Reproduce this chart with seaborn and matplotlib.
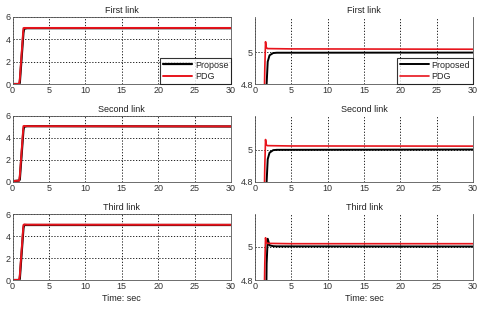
import matplotlib
matplotlib.use("Agg")
import matplotlib.pyplot as plt
import seaborn as sns
import pandas as pd

sns.set_theme(style="white")
plt.rcParams['font.family'] = ['Liberation Sans', 'DejaVu Sans']

titles = ["First link", "Second link", "Third link"]
legend_left = ["Propose", "PDG"]
legend_right = ["Proposed", "PDG"]

# Left panels (full response)
t_left = [0, 0.9, 1.0, 1.5, 1.6, 2.0, 30]
prop_left = [[0, 0, 0.1, 4.6, 4.95, 5.0, 5.0],
             [0.05, 0.1, 0.2, 4.7, 5.0, 5.05, 5.02],
             [0, 0, 0.1, 4.7, 5.0, 5.0, 5.0]]
pdg_left = [[0, 0, 0.4, 5.0, 5.02, 5.02, 5.02],
            [0.05, 0.1, 0.5, 5.05, 5.07, 5.05, 5.03],
            [0, 0, 0.4, 5.0, 5.05, 5.03, 5.02]]

# Right panels (zoom near 5)
t_pdg_right = [1.2, 1.35, 1.45, 1.55, 1.7, 5.0, 30]
pdg_right = [[4.5, 4.9, 5.065, 5.03, 5.022, 5.02, 5.018],
             [4.5, 4.9, 5.062, 5.03, 5.024, 5.022, 5.021],
             [4.5, 4.9, 5.056, 5.03, 5.022, 5.02, 5.02]]
t_prop_right = [1.5, 1.6, 1.75, 2.0, 2.5, 3.0, 30]
prop_right = [[4.5, 4.8, 4.94, 4.98, 4.994, 4.996, 4.997],
              [4.5, 4.8, 4.94, 4.98, 4.996, 4.998, 5.0],
              [4.5, 4.9, 5.05, 5.01, 5.005, 5.004, 5.003]]

xticks = [0, 5, 10, 15, 20, 25, 30]
yticks_left = [0, 2, 4, 6]
yticks_right = [4.8, 5]

fig = plt.figure(figsize=(4.84, 3.09), dpi=100)
W, H = 484, 309
rows = [(17, 84), (115.7, 181.7), (214, 280)]
cols = [(12.5, 231), (255, 473)]
ylims_right = [(4.8, 5.22), (4.8, 5.21), (4.8, 5.2)]

fs = 6.5
for i in range(3):
    top, bot = rows[i]
    for j in range(2):
        l, r = cols[j]
        ax = fig.add_axes([l / W, 1 - bot / H, (r - l) / W, (bot - top) / H])
        if j == 0:
            df1 = pd.DataFrame({"t": t_left, "y": prop_left[i]})
            df2 = pd.DataFrame({"t": t_left, "y": pdg_left[i]})
            sns.lineplot(data=df1, x="t", y="y", color="black", lw=1.6, ax=ax, label=legend_left[0])
            sns.lineplot(data=df2, x="t", y="y", color="#e8141c", lw=1.4, ax=ax, label=legend_left[1])
            ax.set_ylim(0, 6)
            ax.set_yticks(yticks_left)
            ax.set_yticklabels([str(v) for v in yticks_left])
        else:
            df1 = pd.DataFrame({"t": t_prop_right, "y": prop_right[i]})
            df2 = pd.DataFrame({"t": t_pdg_right, "y": pdg_right[i]})
            sns.lineplot(data=df1, x="t", y="y", color="black", lw=1.4, ax=ax, label=legend_right[0])
            sns.lineplot(data=df2, x="t", y="y", color="#e8141c", lw=1.2, ax=ax, label=legend_right[1])
            ax.set_ylim(*ylims_right[i])
            ax.set_yticks(yticks_right)
            ax.set_yticklabels(["4.8", "5"])
        ax.set_xlim(0, 30)
        ax.set_xticks(xticks)
        ax.set_xticklabels([str(v) for v in xticks])
        ax.grid(True, color="black", linestyle=(0, (1.5, 2)), lw=0.6)
        ax.tick_params(labelsize=fs, length=2, pad=1.5, colors="#333333", direction="in")
        ax.set_xlabel("")
        ax.set_ylabel("")
        ax.set_title(titles[i], fontsize=fs, pad=3, color="#222222")
        for s in ax.spines.values():
            s.set_color("#555555")
            s.set_linewidth(0.6)
        if j == 1:
            ax.spines["top"].set_visible(False)
        if i == 0:
            leg = ax.legend(loc="lower right", fontsize=fs, frameon=True, fancybox=False,
                            borderpad=0.3, handlelength=3.2, labelspacing=0.3,
                            borderaxespad=0.0, handletextpad=0.3)
            leg.get_frame().set_edgecolor("black")
            leg.get_frame().set_linewidth(0.8)
        else:
            ax.get_legend().remove()
        if i == 2:
            ax.set_xlabel("Time: sec", fontsize=fs, labelpad=2, color="#222222")

fig.savefig("out.png", dpi=100)
